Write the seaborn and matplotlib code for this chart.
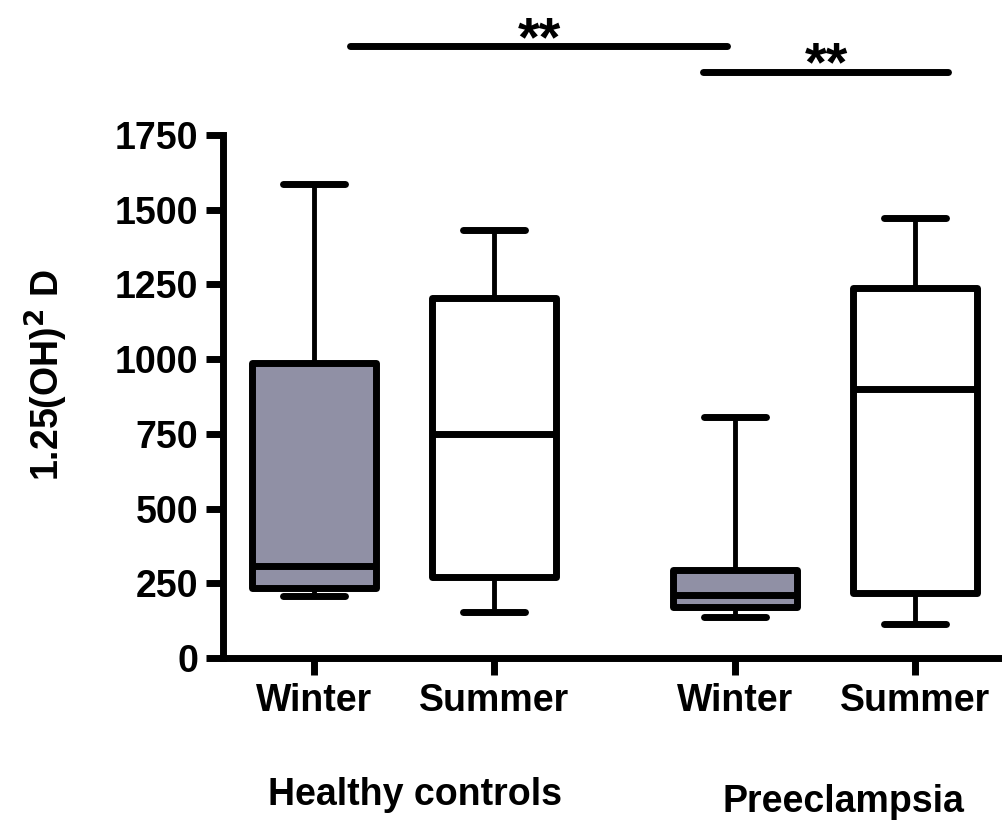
import numpy as np
import pandas as pd
import matplotlib.pyplot as plt
import seaborn as sns

# five-number summaries (min, q1, median, q3, max)
hc_winter = [207, 234, 308, 987, 1586]
hc_summer = [154, 271, 750, 1205, 1432]
pe_winter = [137, 171, 211, 294, 806]
pe_summer = [114, 217, 900, 1238, 1472]

positions = [0, 1, 2.34, 3.34]
seasons = ["Winter", "Summer", "Winter", "Summer"]
groups = ["Healthy controls", "Preeclampsia"]

rows = []
for pos, season, vals in zip(positions, seasons, [hc_winter, hc_summer, pe_winter, pe_summer]):
    for v in vals:
        rows.append({"pos": pos, "season": season, "value": v})
df = pd.DataFrame(rows)

sns.set_style("white")
plt.rcParams["font.family"] = ["Liberation Sans", "DejaVu Sans"]
plt.rcParams["font.weight"] = "bold"
plt.rcParams["text.color"] = "black"
plt.rcParams["axes.labelcolor"] = "black"
plt.rcParams["xtick.color"] = "black"
plt.rcParams["ytick.color"] = "black"

fig = plt.figure(figsize=(10.03, 8.22), dpi=100)
ax = fig.add_axes([0.2223, 0.1995, 0.7777, 0.6363])

sns.boxplot(data=df, x="pos", y="value", hue="season", native_scale=True,
            dodge=False, width=0.69, whis=np.inf, legend=False,
            palette={"Winter": "#8c8da8", "Summer": "white"},
            linecolor="black", linewidth=5, showfliers=False,
            whiskerprops={"linewidth": 3.5},
            capprops={"linewidth": 5, "solid_capstyle": "round"},
            boxprops={"linewidth": 5, "joinstyle": "round"},
            medianprops={"linewidth": 5, "color": "black"},
            ax=ax)

ax.set_xlim(-0.505, 3.83)
ax.set_ylim(0, 1750)
ax.set_yticks(range(0, 1751, 250))
ax.set_xticks(positions)
ax.set_xticklabels(seasons)
ax.tick_params(axis="both", labelsize=27, width=5, length=12, color="black",
               labelcolor="black", direction="out", pad=6, bottom=True, left=True)
for lab in ax.get_xticklabels() + ax.get_yticklabels():
    lab.set_fontweight("bold")

for side in ["top", "right"]:
    ax.spines[side].set_visible(False)
for side in ["left", "bottom"]:
    ax.spines[side].set_linewidth(5)
    ax.spines[side].set_color("black")

ax.set_xlabel("")
ax.set_ylabel("1.25(OH)$^{\\mathbf{2}}$ D", fontsize=27, fontweight="bold", color="black")
ax.yaxis.set_label_coords(-0.196, 0.541)

# group labels below the axis
fig.text(415 / 1003, 1 - 795 / 822, groups[0], fontsize=27, fontweight="bold",
         ha="center", va="center", color="black")
fig.text(843 / 1003, 1 - 802 / 822, groups[1], fontsize=27, fontweight="bold",
         ha="center", va="center", color="black")

# significance bars
ax.plot([0.2, 2.294], [2048, 2048], color="black", lw=5, solid_capstyle="round", clip_on=False)
ax.plot([2.161, 3.522], [1961, 1961], color="black", lw=5, solid_capstyle="round", clip_on=False)
ax.text(1.256, 2065, "**", fontsize=40, fontweight="bold", ha="center", va="center",
        color="black", clip_on=False)
ax.text(2.85, 1980, "**", fontsize=40, fontweight="bold", ha="center", va="center",
        color="black", clip_on=False)

fig.savefig("out.png", dpi=100)
